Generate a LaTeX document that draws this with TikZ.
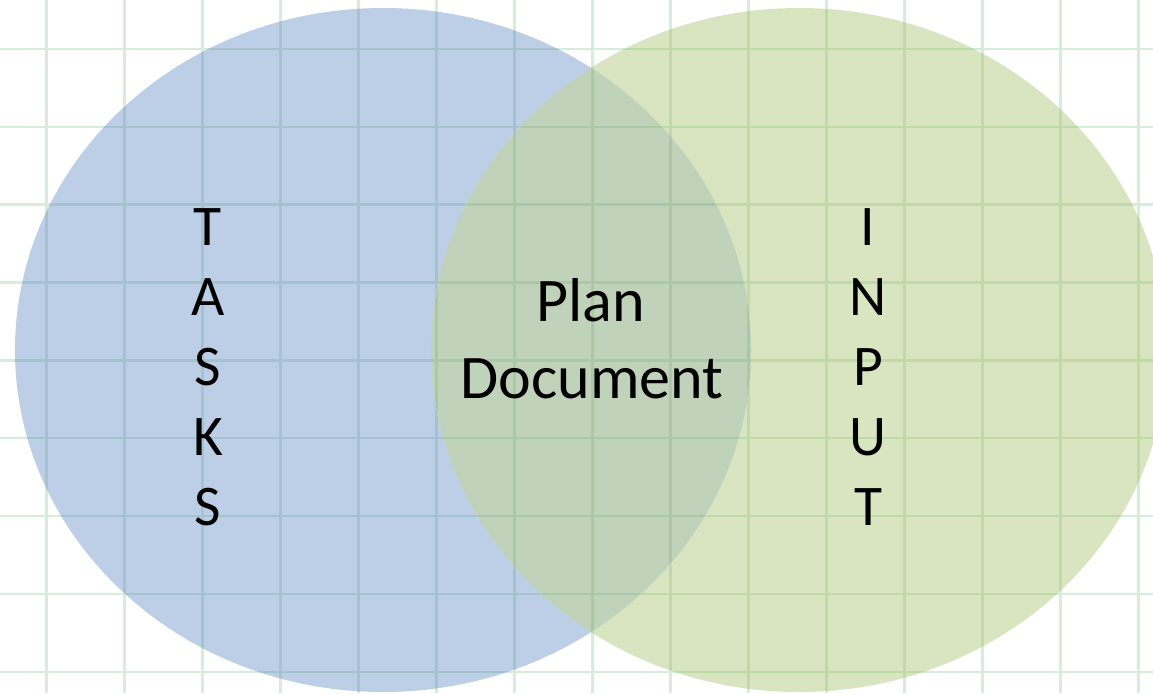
\documentclass[tikz,border=0pt]{standalone}
\usepackage{fontspec}
\setmainfont{Carlito}
\definecolor{gridgreen}{RGB}{214,237,218}
\definecolor{accblue}{RGB}{79,129,189}
\definecolor{accgreen}{RGB}{155,187,89}
\definecolor{overlapcol}{RGB}{119,157,104}
\tikzset{
  gridline/.style={draw=gridgreen, line width=2.3pt},
  setblob/.style={fill opacity=0.375},
  bigletter/.style={anchor=base, inner sep=0pt, font=\fontsize{57.5}{60}\selectfont},
  midtext/.style={anchor=base, inner sep=0pt, font=\fontsize{62}{66}\selectfont}
}
\newcommand{\gridlines}{%
  \foreach \i in {0,...,14} {
    \draw[gridline] ({46.5+78*\i},0) -- ({46.5+78*\i},693);
  }
  \foreach \j in {0,...,8} {
    \draw[gridline] (0,{48.8+77.9*\j}) -- (1153,{48.8+77.9*\j});
  }}
\begin{document}
\begin{tikzpicture}[x=1pt,y=-1pt]
\useasboundingbox (0,0) rectangle (1153,693);
\clip (0,0) rectangle (1153,693);
\fill[white] (0,0) rectangle (1153,693);
% grid
\gridlines
% sets
\fill[accblue, setblob] (383,350) ellipse [x radius=368, y radius=342];
\fill[accgreen, setblob] (799,350) ellipse [x radius=368, y radius=342];
% overlap
\begin{scope}
  \clip (383,350) ellipse [x radius=368, y radius=342];
  \clip (799,350) ellipse [x radius=368, y radius=342];
  \fill[white] (0,0) rectangle (1153,693);
  \gridlines
  \fill[overlapcol, fill opacity=0.45] (0,0) rectangle (1153,693);
\end{scope}
% TASKS
\node[bigletter] (t1) at (208,245) {T};
\node[bigletter] (t2) at (208,315) {A};
\node[bigletter] (t3) at (208,385) {S};
\node[bigletter] (t4) at (208,455) {K};
\node[bigletter] (t5) at (208,525) {S};
% INPUT
\node[bigletter] (i1) at (868,245) {I};
\node[bigletter] (i2) at (868,315) {N};
\node[bigletter] (i3) at (868,385) {P};
\node[bigletter] (i4) at (868,455) {U};
\node[bigletter] (i5) at (868,525) {T};
% center
\node[midtext] (plan) at (591,321.7) {Plan};
\node[midtext] (doc) at (592,398) {Document};
\end{tikzpicture}
\end{document}
